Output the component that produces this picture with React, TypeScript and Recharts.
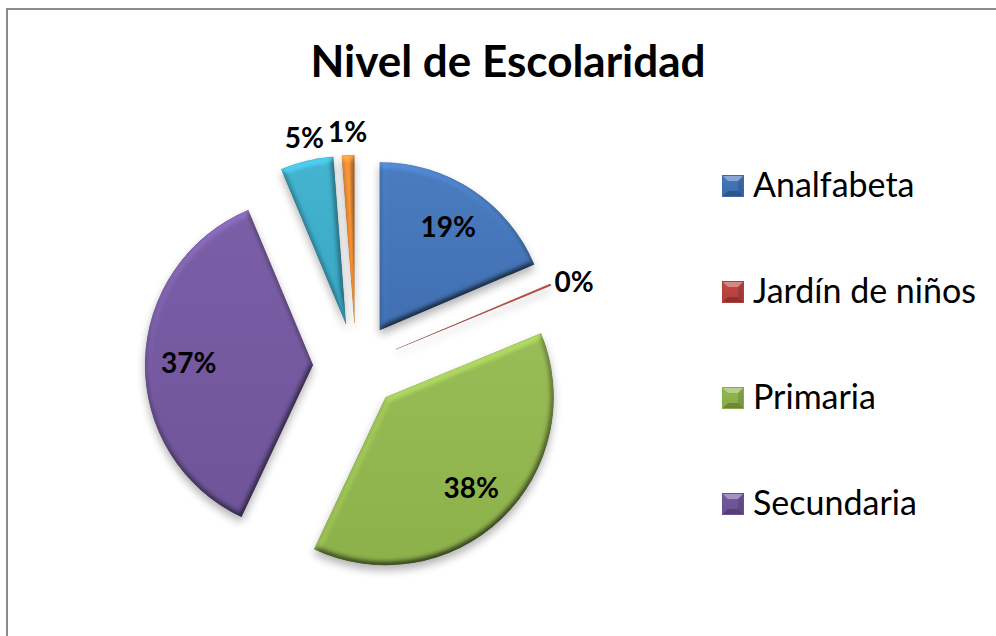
import React from 'react';
import { PieChart, Pie, Cell, Sector, Legend } from 'recharts';

// ---- data ----
const categories = ['Analfabeta', 'Jardín de niños', 'Primaria', 'Secundaria', 'Preparatoria', 'Profesional'];
const values = [18.6, 0.2, 38.2, 36.7, 5.1, 1.2];
const legendCategories = ['Analfabeta', 'Jardín de niños', 'Primaria', 'Secundaria'];
const title = 'Nivel de Escolaridad';

// ---- styles ----
const BASE = ['#3b6bad', '#b03e3a', '#88ac45', '#6a4f94', '#33a2bf', '#ec8626'];
const LIGHT = ['#4677bb', '#c24a46', '#94b851', '#755aa2', '#3fafcc', '#f59234'];
const FONT = 'Lato, "Open Sans", sans-serif';

const data = categories.map((name, i) => ({ name, value: values[i] }));

const RAD = Math.PI / 180;
const EXPLODE = 43;

function ExplodedSector(props: any) {
  const { cx, cy, midAngle } = props;
  const dx = EXPLODE * Math.cos(-midAngle * RAD);
  const dy = EXPLODE * Math.sin(-midAngle * RAD);
  return <Sector {...props} cx={cx + dx} cy={cy + dy} filter="url(#pieBevel)" />;
}

function renderLabel(p: any) {
  const { cx, cy, midAngle, outerRadius, percent } = p;
  const ux = Math.cos(-midAngle * RAD);
  const uy = Math.sin(-midAngle * RAD);
  const text = `${Math.round(percent * 100)}%`;
  const fs = 28;
  let x: number;
  let y: number;
  if (percent >= 0.1) {
    const d = EXPLODE + outerRadius * 0.74;
    x = cx + d * ux;
    y = cy + d * uy;
  } else {
    const d = EXPLODE + outerRadius + 10;
    const w = text.length * fs * 0.55;
    const h = fs;
    x = cx + d * ux + (Math.abs(ux) > 0.7 ? (ux * w) / 2 : 0);
    y = cy + d * uy + (Math.abs(uy) > 0.7 ? (uy * h) / 2 : 0);
  }
  return (
    <text
      x={x}
      y={y}
      textAnchor="middle"
      dominantBaseline="central"
      fontFamily={FONT}
      fontWeight={700}
      fontSize={fs}
      fill="#000"
    >
      {text}
    </text>
  );
}

function LegendContent(props: any) {
  const payload = (props.payload || []).filter((e: any) => legendCategories.includes(e.value));
  return (
    <div style={{ display: 'flex', flexDirection: 'column' }}>
      {payload.map((e: any, i: number) => {
        const idx = categories.indexOf(e.value);
        return (
          <div key={i} style={{ height: 106, display: 'flex', alignItems: 'center', lineHeight: '106px' }}>
            <svg width={22} height={22} style={{ marginRight: 9, marginTop: 4, flex: 'none' }}>
              <rect x={0.5} y={0.5} width={21} height={21} fill={`url(#lg${idx})`} stroke={BASE[idx]} strokeWidth={1} />
              <polygon points="1,1 21,1 16,6 6,6" fill="#ffffff" opacity={0.35} />
              <polygon points="1,21 21,21 16,16 6,16" fill="#000000" opacity={0.22} />
              <polygon points="21,1 21,21 16,16 16,6" fill="#000000" opacity={0.12} />
            </svg>
            <span style={{ fontFamily: FONT, fontSize: 34, color: '#000', whiteSpace: 'nowrap' }}>{e.value}</span>
          </div>
        );
      })}
    </div>
  );
}

export default function App() {
  return (
    <div style={{ position: 'absolute', left: 0, top: 0, width: 996, height: 636, background: '#fff', overflow: 'hidden' }}>
      <svg width={0} height={0} style={{ position: 'absolute' }}>
        <defs>
          {BASE.map((c, i) => (
            <linearGradient key={`g${i}`} id={`grad${i}`} x1="0" y1="0" x2="0" y2="1">
              <stop offset="0%" stopColor={LIGHT[i]} />
              <stop offset="100%" stopColor={c} />
            </linearGradient>
          ))}
          {BASE.map((c, i) => (
            <linearGradient key={`l${i}`} id={`lg${i}`} x1="0" y1="0" x2="0" y2="1">
              <stop offset="0%" stopColor={LIGHT[i]} />
              <stop offset="100%" stopColor={c} />
            </linearGradient>
          ))}
          <filter
            id="pieBevel"
            filterUnits="userSpaceOnUse"
            x={0}
            y={0}
            width={996}
            height={636}
            colorInterpolationFilters="sRGB"
          >
            <feGaussianBlur in="SourceAlpha" stdDeviation={3} result="blur" />
            <feDiffuseLighting in="blur" surfaceScale={3.5} diffuseConstant={1} lightingColor="#ffffff" result="light">
              <feDistantLight azimuth={250} elevation={60} />
            </feDiffuseLighting>
            <feComposite in="SourceGraphic" in2="light" operator="arithmetic" k1={1.155} k2={0} k3={0} k4={0.02} result="lit" />
            <feComposite in="lit" in2="SourceAlpha" operator="in" result="litIn" />
            <feGaussianBlur in="SourceAlpha" stdDeviation={4} result="sblur" />
            <feOffset in="sblur" dx={0} dy={5} result="soff" />
            <feComponentTransfer in="soff" result="shadow">
              <feFuncA type="linear" slope={0.3} />
            </feComponentTransfer>
            <feMerge>
              <feMergeNode in="shadow" />
              <feMergeNode in="litIn" />
            </feMerge>
          </filter>
        </defs>
      </svg>
      <div
        style={{
          position: 'absolute',
          left: 6,
          top: 8,
          width: 1100,
          height: 800,
          borderLeft: '2px solid #8c8c8c',
          borderTop: '2px solid #8c8c8c',
        }}
      />
      <div
        style={{
          position: 'absolute',
          left: 0,
          top: 38,
          width: 1016,
          textAlign: 'center',
          fontFamily: FONT,
          fontWeight: 700,
          fontSize: 44,
          lineHeight: '44px',
          color: '#000',
          whiteSpace: 'nowrap',
        }}
      >
        {title}
      </div>
      <div style={{ position: 'absolute', left: 0, top: 0 }}>
        <PieChart width={996} height={636} margin={{ top: 0, right: 0, bottom: 0, left: 0 }}>
          <Pie
            data={data}
            dataKey="value"
            nameKey="name"
            cx={356}
            cy={366}
            outerRadius={168}
            startAngle={90}
            endAngle={-270}
            stroke="none"
            isAnimationActive={false}
            labelLine={false}
            label={renderLabel}
            shape={ExplodedSector}
          >
            {data.map((d, i) => (
              <Cell key={d.name} fill={`url(#grad${i})`} stroke={BASE[i]} strokeWidth={0.5} />
            ))}
          </Pie>
          <Legend
            layout="vertical"
            align="right"
            verticalAlign="top"
            content={<LegendContent />}
            wrapperStyle={{ left: 722, top: 131, width: 272, right: 'auto' }}
          />
        </PieChart>
      </div>
    </div>
  );
}
